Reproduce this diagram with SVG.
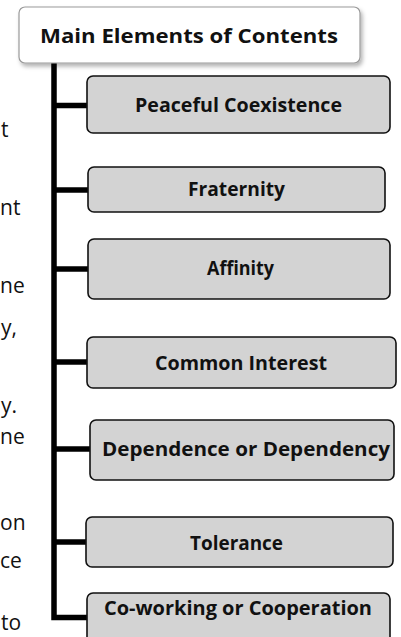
<svg xmlns="http://www.w3.org/2000/svg" width="401" height="637" viewBox="0 0 401 637">
<defs>
<filter id="sh" x="-10%" y="-20%" width="130%" height="160%">
<feDropShadow dx="2" dy="3" stdDeviation="2" flood-color="#000" flood-opacity="0.3"/>
</filter>
<style>
.body{font-family:"Open Sans","Liberation Sans",sans-serif;font-size:21px;fill:#111;text-anchor:start}
.lbl{font-family:"Open Sans","Liberation Sans",sans-serif;font-weight:bold;font-size:19.5px;fill:#111;text-anchor:middle}
.root{fill:#fff;stroke:#9a9a9a;stroke-width:1.2}
.box{fill:#d3d3d3;stroke:#111;stroke-width:1.6}
.wire{fill:none;stroke:#000;stroke-width:5.5;stroke-linejoin:miter;stroke-linecap:butt}
</style>
</defs>
<rect width="401" height="637" fill="#fff"/>
<g id="bodytext">
<text class="body" x="1" y="137">t</text>
<text class="body" x="0" y="215">nt</text>
<text class="body" x="0" y="293">ne</text>
<text class="body" x="1" y="335">y,</text>
<text class="body" x="1" y="413">y.</text>
<text class="body" x="0" y="444">ne</text>
<text class="body" x="0" y="530">on</text>
<text class="body" x="0" y="568">ce</text>
<text class="body" x="1" y="630">to</text>
</g>
<g id="connectors">
<path class="wire" d="M54 63 V617.5 H87"/>
<path class="wire" d="M54 105.5 H87"/>
<path class="wire" d="M54 190 H88"/>
<path class="wire" d="M54 269 H88"/>
<path class="wire" d="M54 362 H87"/>
<path class="wire" d="M54 449 H90"/>
<path class="wire" d="M54 542 H86"/>
</g>
<g id="root">
<rect class="root" x="19" y="7" width="341" height="56" rx="6" filter="url(#sh)"/>
<text class="lbl" x="189" y="43" font-size="22" textLength="298" lengthAdjust="spacingAndGlyphs">Main Elements of Contents</text>
</g>
<g id="n1">
<rect class="box" x="87" y="76" width="303" height="57" rx="6"/>
<text class="lbl" x="238.5" y="112" textLength="207" lengthAdjust="spacingAndGlyphs">Peaceful Coexistence</text>
</g>
<g id="n2">
<rect class="box" x="88" y="167" width="297" height="45" rx="6"/>
<text class="lbl" x="236.5" y="196" textLength="97" lengthAdjust="spacingAndGlyphs">Fraternity</text>
</g>
<g id="n3">
<rect class="box" x="88" y="239" width="302" height="60" rx="6"/>
<text class="lbl" x="240.5" y="275" textLength="67" lengthAdjust="spacingAndGlyphs">Affinity</text>
</g>
<g id="n4">
<rect class="box" x="87" y="337" width="309" height="51" rx="6"/>
<text class="lbl" x="241" y="370" textLength="172" lengthAdjust="spacingAndGlyphs">Common Interest</text>
</g>
<g id="n5">
<rect class="box" x="90" y="420" width="304" height="60" rx="6"/>
<text class="lbl" x="246" y="456" textLength="288" lengthAdjust="spacingAndGlyphs">Dependence or Dependency</text>
</g>
<g id="n6">
<rect class="box" x="86" y="517" width="307" height="50" rx="6"/>
<text class="lbl" x="236.5" y="550" textLength="93" lengthAdjust="spacingAndGlyphs">Tolerance</text>
</g>
<g id="n7">
<rect class="box" x="87" y="593" width="303" height="60" rx="6"/>
<text class="lbl" x="238" y="615" textLength="268" lengthAdjust="spacingAndGlyphs">Co-working or Cooperation</text>
</g>
</svg>
